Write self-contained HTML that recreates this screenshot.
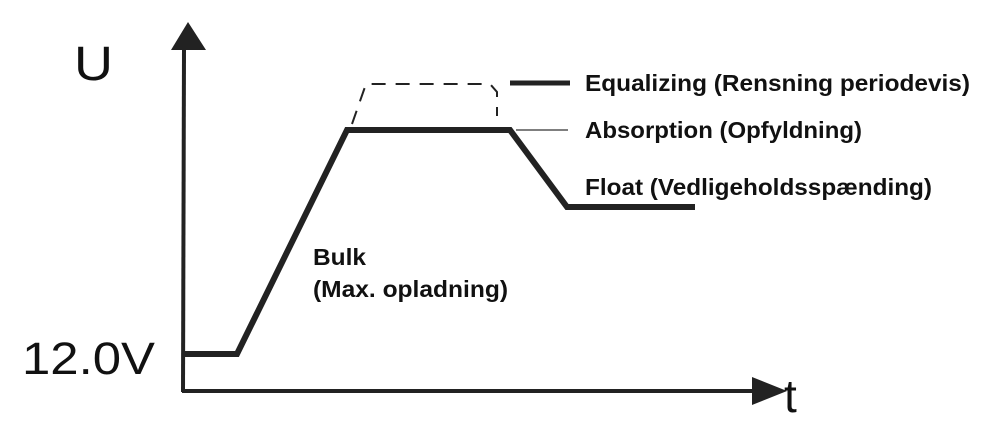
<!DOCTYPE html>
<html><head><style>body{margin:0;background:#fff}svg{display:block}</style></head><body>
<svg width="1000" height="437" viewBox="0 0 1000 437" xmlns="http://www.w3.org/2000/svg">
<rect width="1000" height="437" fill="#fff"/>
<g stroke="#222" fill="none">
<line x1="184" y1="48" x2="183" y2="392" stroke-width="4"/>
<line x1="182" y1="391" x2="756" y2="391" stroke-width="4"/>
<polyline points="183,354 237,354 347,130 510,130 567,207 695,207" stroke-width="6" stroke-linejoin="miter"/>
<polyline points="352,124 366,84 490,84 497,92 497,116" stroke-width="2" stroke-dasharray="14,10"/>
<line x1="516" y1="130" x2="568" y2="130" stroke-width="1.5" stroke="#555"/>
<line x1="510" y1="83" x2="570" y2="83" stroke-width="5"/>
</g>
<polygon points="171,50 206,50 188,22" fill="#222"/>
<polygon points="752,377 752,405 787,391" fill="#222"/>
<g font-family="Liberation Sans, sans-serif" fill="#111">
<text x="74" y="80" font-size="48" textLength="39" lengthAdjust="spacingAndGlyphs">U</text>
<text x="22" y="374" font-size="45" textLength="133" lengthAdjust="spacingAndGlyphs">12.0V</text>
<text x="784" y="412" font-size="46">t</text>
</g>
<g font-family="Liberation Sans, sans-serif" font-weight="bold" font-size="23" fill="#111">
<text x="585" y="91" textLength="385" lengthAdjust="spacingAndGlyphs">Equalizing (Rensning periodevis)</text>
<text x="585" y="138" textLength="277" lengthAdjust="spacingAndGlyphs">Absorption (Opfyldning)</text>
<text x="585" y="195" textLength="347" lengthAdjust="spacingAndGlyphs">Float (Vedligeholdsspænding)</text>
<text x="313" y="265" textLength="53" lengthAdjust="spacingAndGlyphs">Bulk</text>
<text x="313" y="297" textLength="195" lengthAdjust="spacingAndGlyphs">(Max. opladning)</text>
</g>
</svg>
</body></html>
